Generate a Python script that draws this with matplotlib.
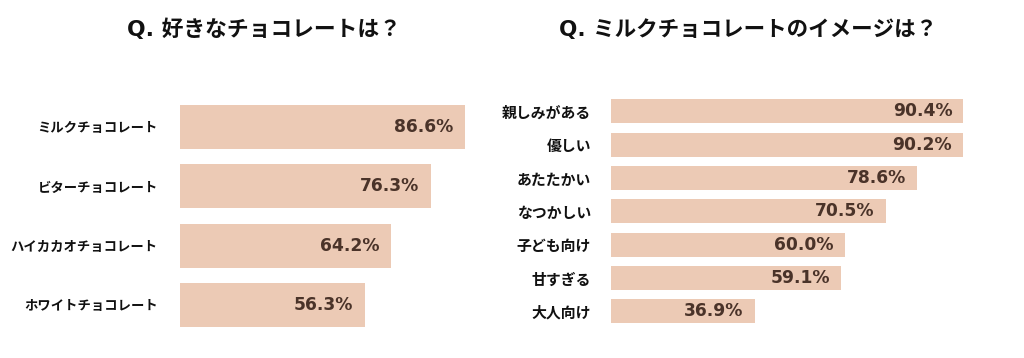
import matplotlib
matplotlib.use("Agg")
import matplotlib.pyplot as plt

plt.rcParams['font.family'] = ['Noto Sans CJK JP', 'DejaVu Sans']

left_title = "Q. 好きなチョコレートは？"
left_labels = ["ミルクチョコレート", "ビターチョコレート", "ハイカカオチョコレート", "ホワイトチョコレート"]
left_values = [86.6, 76.3, 64.2, 56.3]

right_title = "Q. ミルクチョコレートのイメージは？"
right_labels = ["親しみがある", "優しい", "あたたかい", "なつかしい", "子ども向け", "甘すぎる", "大人向け"]
right_values = [90.4, 90.2, 78.6, 70.5, 60.0, 59.1, 36.9]

bar_color = "#ECCAB5"
val_color = "#4A3329"

fig = plt.figure(figsize=(10.24, 3.58), dpi=100)
fig.patch.set_facecolor("white")


def draw(ax, labels, values, height, label_pad, val_pad_px, fs_label, fs_val):
    y = list(range(len(values)))
    ax.barh(y, values, height=height, color=bar_color)
    ax.set_xlim(0, 100)
    ax.set_ylim(len(values) - 0.5, -0.5)
    ax.set_yticks(y)
    ax.set_yticklabels(labels, fontsize=fs_label, fontweight="bold", color="#111111")
    ax.tick_params(axis="y", length=0, pad=label_pad)
    ax.set_xticks([])
    for s in ax.spines.values():
        s.set_visible(False)
    for yi, v in zip(y, values):
        ax.annotate(f"{v:.1f}%", xy=(v, yi), xytext=(-val_pad_px * 0.72, 0),
                    textcoords="offset points", ha="right", va="center",
                    fontsize=fs_val, fontweight="semibold", color=val_color,
                    family=["DejaVu Sans"])


ax1 = fig.add_axes([0.1758, 0.065, 0.3213, 0.6645])
draw(ax1, left_labels, left_values, 0.74, 16, 12, 9.6, 12.3)

ax2 = fig.add_axes([0.5964, 0.0838, 0.3809, 0.6518])
draw(ax2, right_labels, right_values, 0.72, 14, 11, 10.7, 12.3)

title_family = ["DejaVu Sans", "Noto Sans CJK JP"]
fig.text(0.258, 0.918, left_title, ha="center", va="center", family=title_family,
         fontsize=15.7, fontweight="bold", color="#111111")
fig.text(0.731, 0.918, right_title, ha="center", va="center", family=title_family,
         fontsize=15.5, fontweight="bold", color="#111111")

fig.savefig("out.png", dpi=100, facecolor="white")
